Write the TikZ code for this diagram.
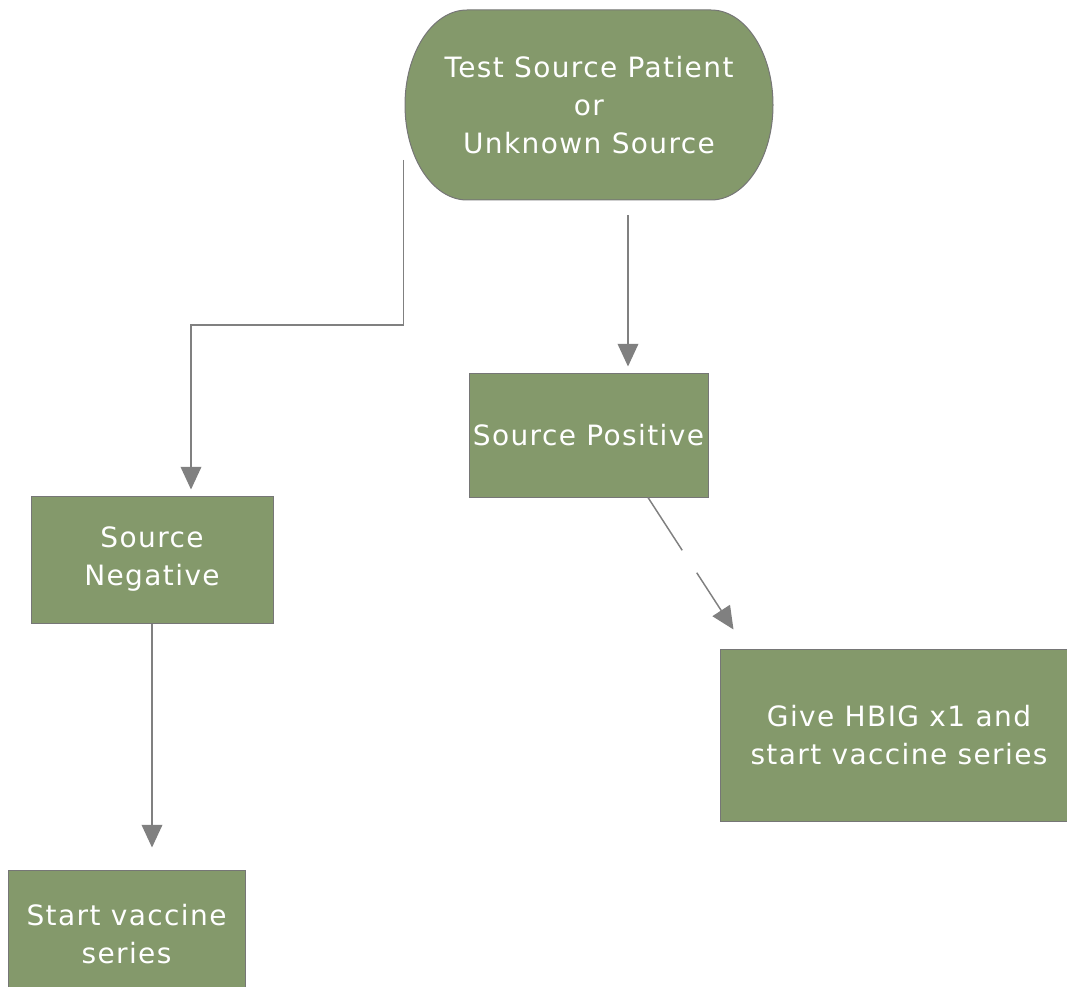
\documentclass[tikz,border=0pt]{standalone}
\usepackage{fontspec}
\newfontfamily\labelfont{DejaVu Sans}[LetterSpace=5]
\usetikzlibrary{arrows.meta,calc,backgrounds}

\definecolor{boxgreen}{HTML}{84996B}
\definecolor{boxline}{HTML}{767676}
\definecolor{linkgray}{HTML}{808080}

\tikzset{
  box/.style={rectangle, fill=boxgreen, draw=boxline, line width=0.75pt,
    text=white, align=center, inner sep=0pt,
    font=\labelfont\fontsize{21}{28.5}\selectfont},
  stadium/.style={fill=boxgreen, draw=boxline, line width=0.75pt},
  link/.style={draw=linkgray, line width=1.1pt},
  tip/.style={-{Triangle[length=17pt,width=15.5pt]}}
}

\begin{document}
\begin{tikzpicture}[x=0.75pt,y=-0.75pt]
  \path[use as bounding box, clip] (0,0) rectangle (1067,987);

  % start terminal: flat top and bottom with half-elliptic ends
  \node[box, draw=none, fill=none, minimum width=276pt, minimum height=142.5pt]
    (test) at (589,105) {Test Source Patient\\or\\Unknown Source};
  \begin{scope}[on background layer, shift={(test.center)}]
    \path[stadium] (-122,-95) -- (122,-95)
      .. controls (156.2,-95) and (184,-52.5) .. (184,0)
      .. controls (184,52.5) and (156.2,95) .. (122,95)
      -- (-122,95)
      .. controls (-156.2,95) and (-184,52.5) .. (-184,0)
      .. controls (-184,-52.5) and (-156.2,-95) .. (-122,-95)
      -- cycle;
  \end{scope}

  % outcome boxes
  \node[box, minimum width=179.25pt, minimum height=92.25pt]
    (pos) at (588.5,435.5) {Source Positive};
  \node[box, minimum width=181.5pt, minimum height=95.25pt]
    (neg) at (152,559.5) {Source\\Negative};
  \node[box, minimum width=177.75pt, minimum height=96pt]
    (start) at (126.5,934) {Start vaccine\\series};
  \node[box, minimum width=268.5pt, minimum height=129pt]
    (hbig) at (899,735) {Give HBIG x1 and\\start vaccine series};

  % connectors
  \draw[link,tip] ($(test.west)+(-1,55)$) -- ++(0,165) -| ($(neg.north)+(39,-6)$);
  \draw[link,tip] ($(test.south)+(39,15)$) -- ($(pos.north)+(39.5,-7)$);
  \draw[link,tip] (neg.south) -- ($(start.north)+(25.5,-22)$);

  \coordinate (d0) at ($(pos.south)+(59.5,0)$);
  \coordinate (d1) at ($(hbig.north west)+(14,-19)$);
  \draw[link] (d0) -- ($(d0)!0.4!(d1)$);
  \draw[link,tip] ($(d0)!0.57!(d1)$) -- (d1);
\end{tikzpicture}
\end{document}
